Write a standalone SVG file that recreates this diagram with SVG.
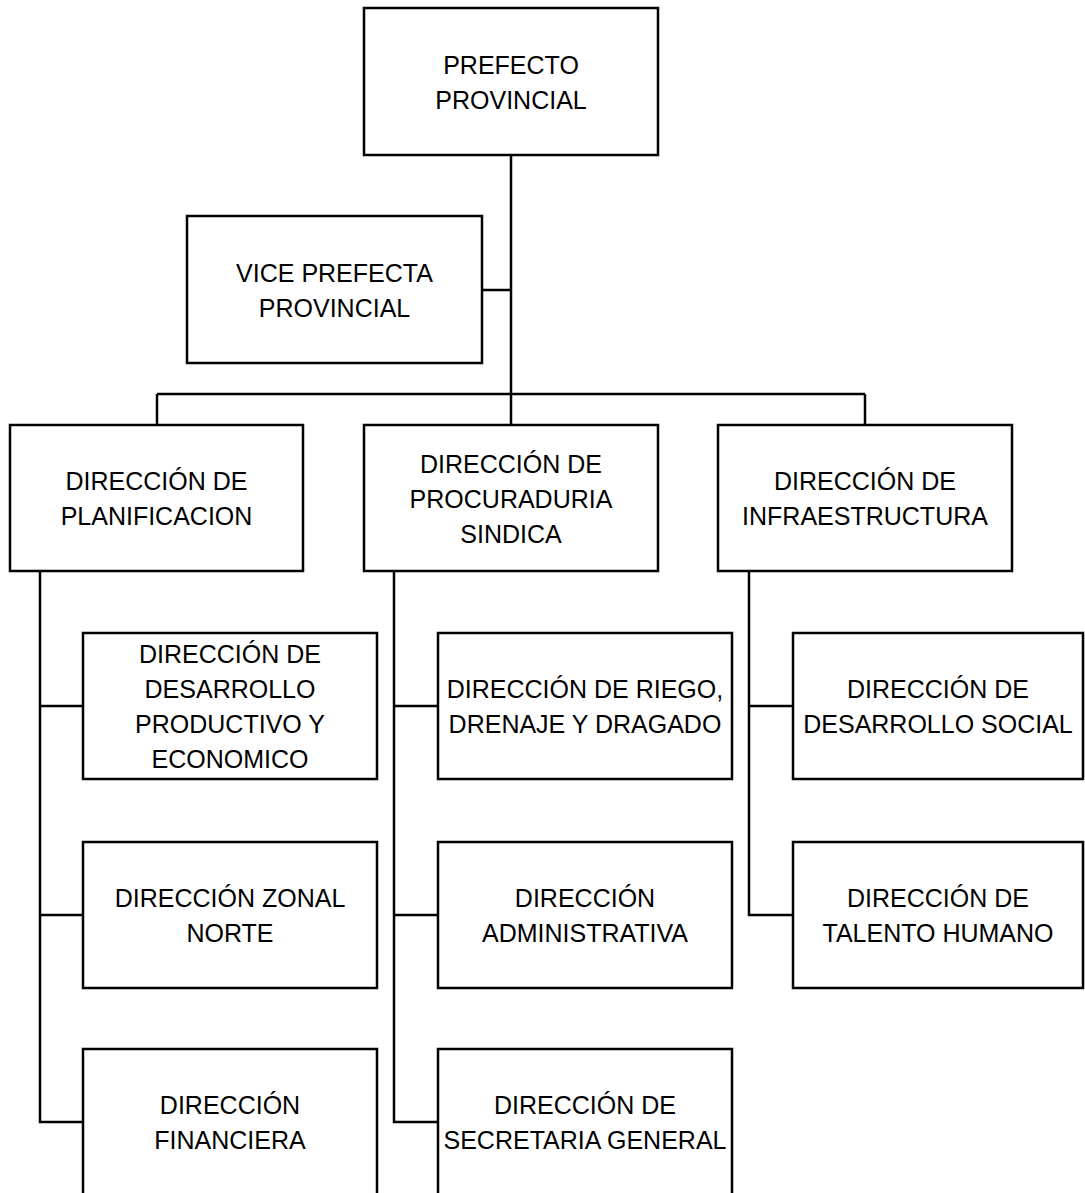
<svg xmlns="http://www.w3.org/2000/svg" width="1085" height="1193" viewBox="0 0 1085 1193">
<style>
.box{fill:#fff;stroke:#000;stroke-width:2.5}
.c{fill:none;stroke:#000;stroke-width:2.5}
text{font-family:"Liberation Sans",Arial,sans-serif;font-size:25px;fill:#000;text-anchor:middle}
</style>
<rect width="1085" height="1193" fill="#fff"/>
<g id="connectors">
<path class="c" d="M511 155V425M482 290H511M157 394H865M157 394V425M865 394V425"/>
<path class="c" d="M40 571V1122H83M40 706H83M40 915H83"/>
<path class="c" d="M394 571V1122H438M394 706H438M394 915H438"/>
<path class="c" d="M749 571V915H793M749 706H793"/>
</g>
<g id="prefecto"><rect class="box" x="364" y="8" width="294" height="147"/><text x="511" y="74">PREFECTO</text><text x="511" y="109">PROVINCIAL</text></g>
<g id="vice"><rect class="box" x="187" y="216" width="295" height="147"/><text x="334.5" y="282">VICE PREFECTA</text><text x="334.5" y="317">PROVINCIAL</text></g>
<g id="planificacion"><rect class="box" x="10" y="425" width="293" height="146"/><text x="156.5" y="490">DIRECCIÓN DE</text><text x="156.5" y="525">PLANIFICACION</text></g>
<g id="procuraduria"><rect class="box" x="364" y="425" width="294" height="146"/><text x="511" y="473">DIRECCIÓN DE</text><text x="511" y="508">PROCURADURIA</text><text x="511" y="543">SINDICA</text></g>
<g id="infraestructura"><rect class="box" x="718" y="425" width="294" height="146"/><text x="865" y="490">DIRECCIÓN DE</text><text x="865" y="525">INFRAESTRUCTURA</text></g>
<g id="desarrollo-productivo"><rect class="box" x="83" y="633" width="294" height="146"/><text x="230" y="663">DIRECCIÓN DE</text><text x="230" y="698">DESARROLLO</text><text x="230" y="733">PRODUCTIVO Y</text><text x="230" y="768">ECONOMICO</text></g>
<g id="zonal-norte"><rect class="box" x="83" y="842" width="294" height="146"/><text x="230" y="907">DIRECCIÓN ZONAL</text><text x="230" y="942">NORTE</text></g>
<g id="financiera"><rect class="box" x="83" y="1049" width="294" height="160"/><text x="230" y="1114">DIRECCIÓN</text><text x="230" y="1149">FINANCIERA</text></g>
<g id="riego"><rect class="box" x="438" y="633" width="294" height="146"/><text x="585" y="698">DIRECCIÓN DE RIEGO,</text><text x="585" y="733">DRENAJE Y DRAGADO</text></g>
<g id="administrativa"><rect class="box" x="438" y="842" width="294" height="146"/><text x="585" y="907">DIRECCIÓN</text><text x="585" y="942">ADMINISTRATIVA</text></g>
<g id="secretaria"><rect class="box" x="438" y="1049" width="294" height="160"/><text x="585" y="1114">DIRECCIÓN DE</text><text x="585" y="1149">SECRETARIA GENERAL</text></g>
<g id="desarrollo-social"><rect class="box" x="793" y="633" width="290" height="146"/><text x="938" y="698">DIRECCIÓN DE</text><text x="938" y="733">DESARROLLO SOCIAL</text></g>
<g id="talento-humano"><rect class="box" x="793" y="842" width="290" height="146"/><text x="938" y="907">DIRECCIÓN DE</text><text x="938" y="942">TALENTO HUMANO</text></g>
</svg>
